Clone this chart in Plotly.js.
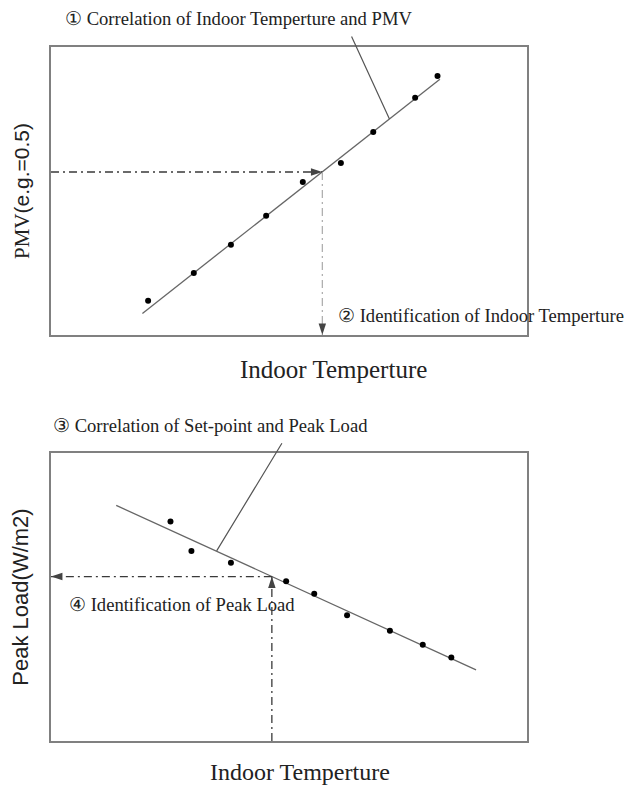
<!DOCTYPE html>
<html>
<head>
<meta charset="utf-8">
<script src="https://cdn.plot.ly/plotly-3.0.1.min.js"></script>
<style>html,body{margin:0;padding:0;background:#fff;}</style>
</head>
<body>
<div id="chart" style="width:625px;height:787px;"></div>
<script>
// ---- Chart 1: Indoor temperature vs PMV (arbitrary units, no ticks) ----
const pmvTemp  = [20.4, 30.0, 37.8, 45.2, 52.9, 60.9, 67.7, 76.5, 81.2];
const pmvValue = [11.9, 21.5, 31.3, 41.4, 53.1, 59.7, 70.5, 82.4, 89.9];
const pmvFitTemp  = [19.2, 81.7];
const pmvFitValue = [7.5, 88.8];
const pmvTargetTemp  = 57.0;   // identified indoor temperature
const pmvTargetValue = 56.6;   // PMV e.g. 0.5
const pmvLeaderTemp  = [63.0, 71.1];
const pmvLeaderValue = [104.2, 75.0];

// ---- Chart 2: Indoor temperature (set-point) vs Peak load ----
const loadTemp  = [25.1, 29.5, 37.8, 49.4, 55.3, 62.2, 71.2, 78.1, 84.1];
const loadValue = [76.2, 66.0, 61.9, 55.5, 51.1, 43.7, 38.3, 33.4, 29.0];
const loadFitTemp  = [13.7, 89.3];
const loadFitValue = [81.8, 24.7];
const loadTargetTemp  = 46.4;
const loadTargetValue = 57.1;
const loadLeaderTemp  = [48.7, 34.8];
const loadLeaderValue = [103.9, 66.0];

const axisRange = [0, 100];

// text labels
const labelPMVCorr  = '\u2460 Correlation of Indoor Temperture and PMV';
const labelPMVIdent = '\u2461 Identification of Indoor Temperture';
const labelLoadCorr = '\u2462 Correlation of Set-point and Peak Load';
const labelLoadIdent= '\u2463 Identification of Peak Load';
const xTitle = 'Indoor Temperture';
const yTitleTop = 'PMV<span style="font-family:Liberation Sans">(e.g.=0.5)</span>';
const yTitleBottom = 'Peak Load(W/m2)';

const serif = 'Liberation Serif, Times New Roman, serif';
const sans  = 'Liberation Sans, Arial, sans-serif';
const dashDot = '8px,4px,2px,4px';

const traces = [
  // chart 1
  {x: pmvFitTemp, y: pmvFitValue, xaxis:'x', yaxis:'y', mode:'lines',
   line:{color:'#666', width:1.3}},
  {x: pmvTemp, y: pmvValue, xaxis:'x', yaxis:'y', mode:'markers',
   marker:{color:'#000', size:6}},
  {x: [axisRange[0], pmvTargetTemp], y: [pmvTargetValue, pmvTargetValue], xaxis:'x', yaxis:'y',
   mode:'lines', line:{color:'#3a3a3a', width:1.3, dash:dashDot}},
  {x: [pmvTargetTemp, pmvTargetTemp], y: [pmvTargetValue, axisRange[0]], xaxis:'x', yaxis:'y',
   mode:'lines', line:{color:'#aaa', width:1.2, dash:dashDot}},
  {x: [pmvTargetTemp, pmvTargetTemp], y: [pmvTargetValue, axisRange[0]], xaxis:'x', yaxis:'y',
   mode:'markers', cliponaxis:false,
   marker:{symbol:'arrow', size:12, angle:[90, 180], color:'#444', line:{width:0}}},
  // chart 2
  {x: loadFitTemp, y: loadFitValue, xaxis:'x2', yaxis:'y2', mode:'lines',
   line:{color:'#666', width:1.3}},
  {x: loadTemp, y: loadValue, xaxis:'x2', yaxis:'y2', mode:'markers',
   marker:{color:'#000', size:6}},
  {x: [loadTargetTemp, axisRange[0]], y: [loadTargetValue, loadTargetValue], xaxis:'x2', yaxis:'y2',
   mode:'lines', line:{color:'#3a3a3a', width:1.3, dash:dashDot}},
  {x: [loadTargetTemp, loadTargetTemp], y: [axisRange[0], loadTargetValue], xaxis:'x2', yaxis:'y2',
   mode:'lines', line:{color:'#3a3a3a', width:1.3, dash:dashDot}},
  {x: [axisRange[0], loadTargetTemp], y: [loadTargetValue, loadTargetValue], xaxis:'x2', yaxis:'y2',
   mode:'markers', cliponaxis:false,
   marker:{symbol:'arrow', size:12, angle:[270, 0], color:'#444', line:{width:0}}}
];

function ax(extra) {
  return Object.assign({
    range: axisRange, showline:true, mirror:true, linecolor:'#808080', linewidth:1.6,
    showticklabels:false, ticks:'', showgrid:false, zeroline:false, fixedrange:true
  }, extra);
}

function label(text, x, y, size, extra) {
  return Object.assign({text:text, xref:'paper', yref:'paper', x:x, y:y,
    xanchor:'left', yanchor:'middle', showarrow:false,
    font:{family:serif, size:size, color:'#222'}}, extra || {});
}

const layout = {
  width:625, height:787,
  margin:{l:51, r:98, t:47, b:46},
  paper_bgcolor:'#fff', plot_bgcolor:'#fff',
  showlegend:false,
  font:{family:serif, color:'#222'},
  xaxis: ax({domain:[0,1], anchor:'y'}),
  yaxis: ax({domain:[0.58501,1], anchor:'x',
    title:{text:yTitleTop, font:{family:serif, size:21, color:'#222'}, standoff:14}}),
  xaxis2: ax({domain:[0,1], anchor:'y2'}),
  yaxis2: ax({domain:[0,0.41499], anchor:'x2',
    title:{text:yTitleBottom, font:{family:sans, size:22, color:'#222'}, standoff:14}}),
  annotations: [
    label(labelPMVCorr, 0.0252, 1.0414, 18.6),
    label(labelPMVIdent, 0.598, 0.6138, 18.6),
    label(labelLoadCorr, 0.0, 0.4553, 18.6),
    label(labelLoadIdent, 0.0336, 0.1974, 18.6),
    // x-axis titles (offset from centre as in the original figure)
    label(xTitle, 0.5945, 0.5346, 25, {xanchor:'center'}),
    label(xTitle, 0.523, -0.0655, 24, {xanchor:'center', yanchor:'bottom', borderpad:0}),
    // leader lines
    {text:'', xref:'x', yref:'y', axref:'x', ayref:'y',
     x:pmvLeaderTemp[1], y:pmvLeaderValue[1], ax:pmvLeaderTemp[0], ay:pmvLeaderValue[0],
     showarrow:true, arrowhead:0, arrowwidth:1.2, arrowcolor:'#555', standoff:0, startstandoff:0},
    {text:'', xref:'x2', yref:'y2', axref:'x2', ayref:'y2',
     x:loadLeaderTemp[1], y:loadLeaderValue[1], ax:loadLeaderTemp[0], ay:loadLeaderValue[0],
     showarrow:true, arrowhead:0, arrowwidth:1.2, arrowcolor:'#555', standoff:0, startstandoff:0}
  ]
};

Plotly.newPlot('chart', traces, layout, {displayModeBar:false, staticPlot:true});
</script>
</body>
</html>
